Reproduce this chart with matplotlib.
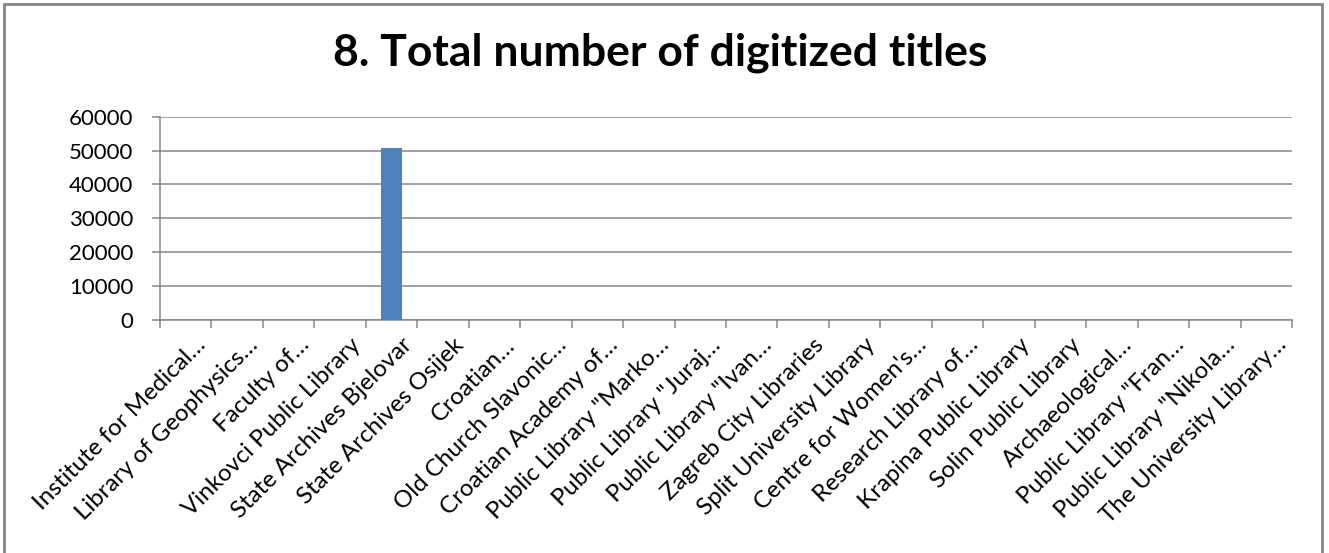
import matplotlib.pyplot as plt
from matplotlib.patches import Rectangle
from matplotlib.transforms import ScaledTranslation

plt.rcParams['font.family'] = ['Lato', 'DejaVu Sans']

# data
labels = [
    'Institute for Medical…', 'Library of Geophysics…', 'Faculty of…',
    'Vinkovci Public Library', 'State Archives Bjelovar', 'State Archives Osijek',
    'Croatian…', 'Old Church Slavonic…', 'Croatian Academy of…',
    'Public Library "Marko…', 'Public Library "Juraj…', 'Public Library "Ivan…',
    'Zagreb City Libraries', 'Split University Library', "Centre for Women's…",
    'Research Library of…', 'Krapina Public Library', 'Solin Public Library',
    'Archaeological…', 'Public Library "Fran…', 'Public Library "Nikola…',
    'The University Library…',
]
values = [0, 0, 0, 0, 50900, 0, 0, 0, 0, 0, 0, 0, 0, 0, 0, 0, 0, 0, 0, 0, 0, 0]
yticks = [0, 10000, 20000, 30000, 40000, 50000, 60000]

grey = '#868686'

fig = plt.figure(figsize=(13.29, 5.53), dpi=100)
ax = fig.add_axes([160 / 1329, 1 - 320 / 553, (1292 - 160) / 1329, (320 - 116.7) / 553])

x = list(range(len(labels)))
ax.bar(x, values, width=0.4, color='#4F81BD', zorder=3)

ax.set_xlim(-0.5, len(labels) - 0.5)
ax.set_ylim(0, 60000)
ax.set_yticks(yticks)
ax.set_yticklabels([str(v) for v in yticks])
ax.yaxis.grid(True, color=grey, linewidth=1.1, zorder=0)

# category boundaries as tick marks
ax.set_xticks([i - 0.5 for i in range(len(labels) + 1)])
ax.set_xticklabels([])
ax.set_xticks(x, minor=True)
ax.set_xticklabels(labels, minor=True, rotation=45, ha='right', va='center',
                   rotation_mode='anchor', fontsize=17.3)
ax.tick_params(axis='x', which='minor', length=0, pad=17)
ax.tick_params(axis='x', which='major', length=6, color=grey, width=1.1)
ax.tick_params(axis='y', length=6, color=grey, width=1.1, labelsize=16, pad=13)

# excel puts the label end a bit right of the category centre
shift = ScaledTranslation(0.17, 0.02, fig.dpi_scale_trans)
for lab in ax.get_xticklabels(minor=True):
    lab.set_transform(lab.get_transform() + shift)

for s in ['top', 'right']:
    ax.spines[s].set_visible(False)
for s in ['left', 'bottom']:
    ax.spines[s].set_color(grey)
    ax.spines[s].set_linewidth(1.1)

fig.text(0.497, 0.905, '8. Total number of digitized titles', ha='center',
         va='center', fontsize=32, fontweight='bold')

# chart border
fig.patches.append(Rectangle((4 / 1329, -0.05), (1322 - 4) / 1329, 1 - 4 / 553 + 0.05,
                             transform=fig.transFigure, fill=False,
                             edgecolor=grey, linewidth=2))

fig.savefig('out.png', dpi=100)
